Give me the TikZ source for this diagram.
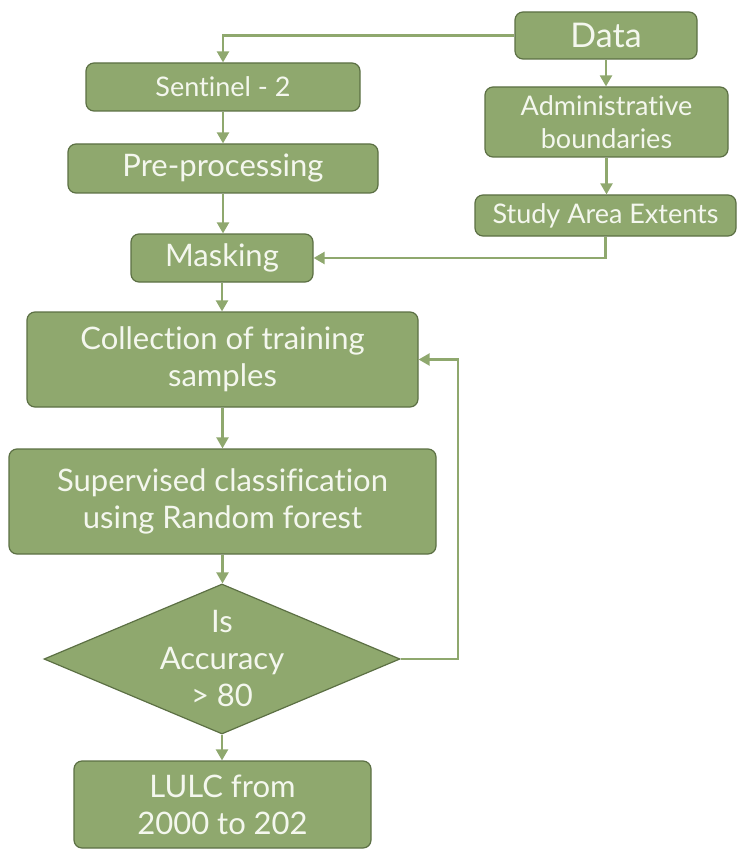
\documentclass[tikz,border=0pt]{standalone}
\usepackage{fontspec}
\setmainfont{Lato}[Ligatures={NoCommon,NoRare}]
\usetikzlibrary{arrows.meta,shapes.geometric}
\definecolor{boxg}{RGB}{143,168,110}
\definecolor{edgeg}{RGB}{92,112,68}
\definecolor{txtc}{RGB}{244,247,238}
\begin{document}
\begin{tikzpicture}[x=1pt,y=-1pt,
  box/.style={draw=edgeg, line width=1.2pt, fill=boxg, rounded corners=8pt,
    text=txtc, align=center, inner sep=0pt},
  decbox/.style={draw=edgeg, line width=1.2pt, fill=boxg, diamond, aspect=2.37,
    text=txtc, align=center, inner sep=0pt},
  conn/.style={draw=boxg, line width=2.2pt, -{Triangle[length=11pt,width=12pt]}},
  fbig/.style={font=\fontsize{31}{37}\selectfont},
  fmid/.style={font=\fontsize{27}{33}\selectfont}]
\useasboundingbox (0,0) rectangle (737,850);

\node[box, font=\fontsize{34}{38}\selectfont, minimum width=182pt, minimum height=47pt] (data) at (606,35.5) {Data};
\node[box, fmid, minimum width=274pt, minimum height=48pt] (sent) at (223,87) {Sentinel - 2};
\node[box, fmid, minimum width=243pt, minimum height=70pt] (admin) at (606.5,122) {Administrative\\boundaries};
\node[box, fbig, minimum width=310pt, minimum height=49pt] (pre) at (223,168.5) {Pre-processing};
\node[box, fmid, minimum width=261pt, minimum height=41pt] (study) at (605.5,215.5) {Study Area Extents};
\node[box, fbig, minimum width=182pt, minimum height=48pt] (mask) at (222,258) {Masking};
\node[box, fbig, minimum width=391pt, minimum height=95pt] (coll) at (222.5,359.5) {Collection of training\\samples};
\node[box, fbig, minimum width=427pt, minimum height=105pt] (sup) at (222.5,501.5) {Supervised classification\\using Random forest};
\node[decbox, fbig, minimum width=356pt, minimum height=150pt] (dec) at (222,659) {Is\\Accuracy\\> 80};
\node[box, fbig, minimum width=297pt, minimum height=87pt] (lulc) at (222.5,804.5) {LULC from\\2000 to 202};

\coordinate (fb) at (458,659);

\draw[conn] (data.west) -| (sent.north);
\draw[conn] (data.south) -- (data.south |- admin.north);
\draw[conn] (admin.south) -- (admin.south |- study.north);
\draw[conn] (study.south) |- (mask.east);
\draw[conn] (sent.south) -- (sent.south |- pre.north);
\draw[conn] (pre.south) -- (pre.south |- mask.north);
\draw[conn] (mask.south) -- (mask.south |- coll.north);
\draw[conn] (coll.south) -- (coll.south |- sup.north);
\draw[conn] (sup.south) -- (sup.south |- dec.north);
\draw[conn] (dec.south) -- (dec.south |- lulc.north);
\draw[conn] (dec.east) -- (fb) |- (coll.east);
\end{tikzpicture}
\end{document}
